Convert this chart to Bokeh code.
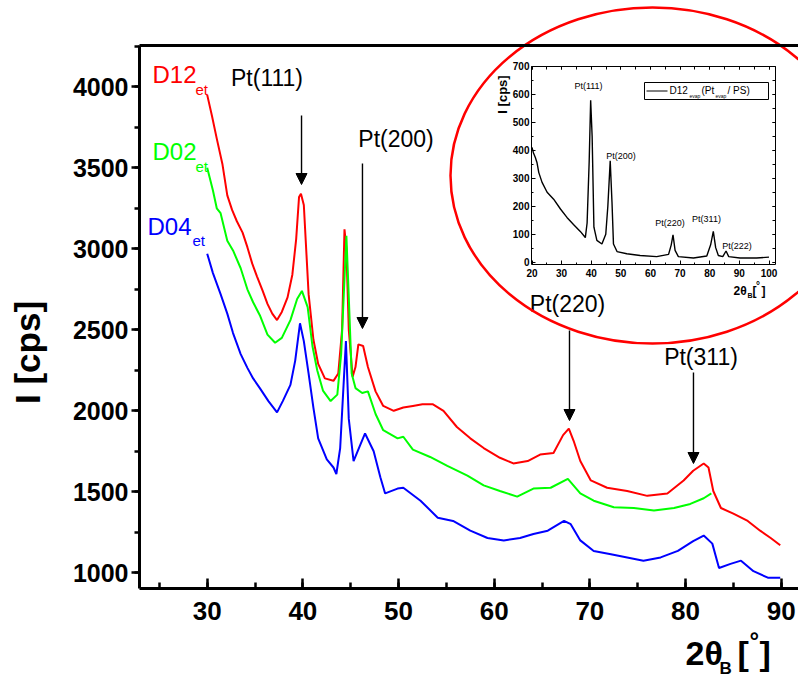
import numpy as np
from bokeh.plotting import figure
from bokeh.models import (Range1d, LinearAxis, SingleIntervalTicker, FixedTicker,
                          Arrow, NormalHead, ColumnDataSource)
from bokeh.core.properties import value
from bokeh.embed import file_html
from bokeh.resources import INLINE

# ---------------- data ----------------
d12_x = [30.0, 30.5, 31.0, 31.6, 32.1, 32.6, 33.1, 33.7, 34.2, 34.7, 35.2, 35.8, 36.3, 36.8,
         37.3, 37.8, 38.4, 38.9, 39.3, 39.6, 39.8, 40.1, 40.3, 40.6, 41.1, 41.6, 42.3, 43.2,
         43.7, 44.1, 44.35, 44.55, 44.8, 45.2, 45.5, 45.8, 46.3, 46.8, 47.6, 48.4, 49.5, 50.5,
         51.5, 52.5, 53.6, 54.7, 56.1, 57.5, 58.9, 60.6, 62.0, 63.5, 64.8, 66.2, 67.2, 67.8,
         68.3, 69.0, 70.1, 71.8, 73.9, 76.0, 78.1, 79.8, 80.8, 81.9, 82.4, 82.9, 83.7, 85.0,
         86.5, 87.8, 88.9, 89.9]
d12_y = [3950, 3820, 3680, 3520, 3330, 3240, 3170, 3100, 3010, 2910, 2830, 2740, 2660, 2600,
         2560, 2610, 2700, 2840, 3060, 3320, 3340, 3270, 3050, 2720, 2440, 2290, 2200, 2185,
         2230, 2500, 3120, 3000, 2500, 2210, 2270, 2410, 2400, 2270, 2120, 2030, 2000, 2020,
         2030, 2040, 2040, 2000, 1900, 1830, 1770, 1710, 1675, 1690, 1730, 1740, 1850, 1890,
         1815, 1690, 1570, 1525, 1505, 1475, 1490, 1570, 1630, 1675, 1650, 1505, 1400, 1365,
         1320, 1260, 1215, 1170]

d02_x = [30.0, 30.6, 31.0, 31.4, 32.1, 32.7, 33.5, 34.2, 34.8, 35.5, 36.3, 37.1, 37.8, 38.7,
         39.4, 39.9, 40.5, 41.0, 41.5, 42.1, 42.9, 43.6, 44.0, 44.55, 44.8, 45.1, 45.5, 46.2,
         46.8, 47.6, 48.4, 49.9, 50.5, 51.5, 53.3, 55.1, 57.2, 58.9, 60.6, 62.4, 64.1, 65.9,
         67.7, 69.0, 70.4, 72.5, 74.6, 76.7, 78.8, 80.5, 81.9, 82.7]
d02_y = [3500, 3360, 3250, 3220, 3050, 2990, 2880, 2750, 2670, 2590, 2470, 2420, 2450, 2560,
         2690, 2740, 2640, 2400, 2250, 2125, 2060, 2100, 2350, 3080, 2700, 2230, 2140, 2110,
         2120, 1980, 1880, 1830, 1840, 1760, 1715, 1660, 1600, 1540, 1505, 1470, 1520, 1525,
         1580, 1490, 1445, 1405, 1400, 1385, 1400, 1425, 1460, 1490]

d04_x = [30.0, 30.6, 31.4, 32.1, 32.7, 33.5, 34.2, 34.8, 35.5, 36.4, 37.3, 37.9, 38.7, 39.2,
         39.7, 40.1, 40.6, 41.1, 41.6, 42.5, 43.2, 43.5, 43.9, 44.2, 44.5, 44.8, 45.3, 46.0,
         46.5, 47.4, 48.1, 48.6, 49.9, 50.5, 52.3, 54.1, 55.7, 57.5, 59.3, 61.0, 62.7, 64.1,
         65.6, 67.3, 68.0, 69.0, 70.4, 72.2, 73.9, 75.6, 77.4, 79.2, 80.8, 81.9, 82.8, 83.5,
         84.7, 85.8, 87.1, 88.6, 89.9]
d04_y = [2970, 2850, 2720, 2600, 2480, 2350, 2265, 2200, 2140, 2060, 1990, 2060, 2160, 2310,
         2540, 2430, 2230, 2020, 1830, 1700, 1650, 1610, 1770, 2100, 2430, 1950, 1690, 1790,
         1860, 1750, 1590, 1490, 1520, 1525, 1445, 1340, 1320, 1260, 1215, 1200, 1215, 1240,
         1260, 1320, 1300, 1200, 1135, 1115, 1095, 1075, 1095, 1135, 1195, 1230, 1180, 1030,
         1055, 1075, 1010, 970, 970]

inset_x = [20.0, 20.5, 21.1, 21.7, 22.3, 23.4, 25.1, 27.3, 29.6, 31.8, 34.0, 36.3, 38.0, 38.6,
           39.3, 39.8, 40.3, 40.9, 41.9, 43.6, 44.9, 45.6, 46.4, 47.0, 47.5, 48.7, 52.0, 56.5,
           62.1, 66.1, 67.0, 67.6, 68.3, 69.4, 74.5, 79.0, 80.3, 81.2, 82.0, 82.9, 84.4, 85.5,
           86.4, 90.2, 95.8, 100.0]
inset_y = [410, 390, 375, 355, 320, 285, 250, 225, 190, 160, 135, 110, 88, 140,
           360, 578, 450, 125, 78, 65, 100, 200, 362, 215, 65, 38, 30, 24,
           20, 28, 62, 98, 42, 20, 15, 22, 62, 110, 52, 24, 20, 40,
           20, 15, 15, 18]

peak_names = ["Pt(111)", "Pt(200)", "Pt(220)", "Pt(311)"]
peak_pos = [39.86, 46.23, 67.87, 80.83]
inset_peak_names = ["Pt(111)", "Pt(200)", "Pt(220)", "Pt(311)", "Pt(222)"]

# ---------------- geometry (pixel calibration of the reference) ----------------
W, H = 798, 677
FONT = "Liberation Sans"
K_BASE = 0.38   # renderer places alphabetic baselines ~0.38 em low; compensate


def mapper(p0, v0, p1, v1):
    s = (v1 - v0) / (p1 - p0)
    return lambda px: v0 + (px - p0) * s


X = mapper(206.7, 30.0, 780.7, 90.0)      # main x: pixel from left -> data
Y = mapper(572.3, 1000.0, 86.3, 4000.0)   # main y: pixel from top -> data
IX = mapper(531.5, 20.0, 768.5, 100.0)    # inset x
IY = mapper(261.7, 0.0, 65.7, 700.0)      # inset y

p = figure(width=W, height=H, output_backend="svg", toolbar_location=None,
           x_range=Range1d(X(0), X(W)), y_range=Range1d(Y(H), Y(0)),
           x_axis_location=None, y_axis_location=None, title_location=None,
           min_border=0, outline_line_color=None,
           background_fill_color="white", border_fill_color="white")
p.xgrid.visible = False
p.ygrid.visible = False
p.extra_x_ranges = {"ix": Range1d(IX(0), IX(W))}
p.extra_y_ranges = {"iy": Range1d(IY(H), IY(0))}


def style_axis(ax, size, bold=True):
    ax.major_label_text_font = FONT
    ax.major_label_text_font_size = size
    ax.major_label_text_font_style = "bold" if bold else "normal"
    ax.major_label_text_color = "black"
    ax.axis_line_color = "black"
    ax.major_tick_line_color = "black"
    ax.minor_tick_line_color = "black"


# ---- main axes ----
XL, XR, YB, YT = X(139), X(W), Y(588), Y(45)

ax_b = LinearAxis(fixed_location=YB, bounds=(XL, XR),
                  ticker=SingleIntervalTicker(interval=10, num_minor_ticks=2))
style_axis(ax_b, "26px")
ax_b.axis_line_width = 3
ax_b.major_tick_line_width = 2.5
ax_b.minor_tick_line_width = 2.5
ax_b.major_tick_in, ax_b.major_tick_out = 10, 0
ax_b.minor_tick_in, ax_b.minor_tick_out = 6, 0
ax_b.major_label_standoff = 13
p.add_layout(ax_b, "below")

ax_l = LinearAxis(fixed_location=XL, bounds=(YB, YT),
                  ticker=SingleIntervalTicker(interval=500, num_minor_ticks=2))
style_axis(ax_l, "25px")
ax_l.axis_line_width = 3
ax_l.major_tick_line_width = 2.5
ax_l.minor_tick_line_width = 2.5
ax_l.major_tick_in, ax_l.major_tick_out = 0, 8
ax_l.minor_tick_in, ax_l.minor_tick_out = 0, 5
ax_l.major_label_standoff = 3
p.add_layout(ax_l, "left")

ax_t = LinearAxis(fixed_location=YT, bounds=(XL, XR), ticker=FixedTicker(ticks=[]))
ax_t.axis_line_width = 3
ax_t.axis_line_color = "black"
ax_t.major_label_text_color = None
p.add_layout(ax_t, "above")

# ---- main curves ----
p.line(d12_x, d12_y, line_color="#ff0000", line_width=2)
p.line(d02_x, d02_y, line_color="#00ff00", line_width=2)
p.line(d04_x, d04_y, line_color="#0000ff", line_width=2)


def txt(px, py, s, size, color="black", bold=False, align="left",
        rotated=False, inset=False):
    """Place text by its reference pixel position (left/centre, baseline)."""
    if rotated:
        px = px - K_BASE * size
    else:
        py = py - K_BASE * size
    fx, fy = (IX, IY) if inset else (X, Y)
    p.text(x=[fx(px)], y=[fy(py)], text=[s], text_font=value(FONT),
           text_font_size=f"{size}px",
           text_font_style="bold" if bold else "normal", text_color=color,
           text_align=align, text_baseline="alphabetic",
           angle=np.pi / 2 if rotated else 0.0,
           x_range_name="ix" if inset else "default",
           y_range_name="iy" if inset else "default")


# series names
txt(152, 83, "D12", 24, "#ff0000")
txt(195, 95, "et", 15, "#ff0000")
txt(152, 160, "D02", 24, "#00ff00")
txt(195, 172, "et", 15, "#00ff00")
txt(147, 235, "D04", 24, "#0000ff")
txt(192, 246, "et", 15, "#0000ff")

# peak labels and arrows
lab_px = [266.5, 395.5, 567, 700.5]
lab_py = [86, 147, 312, 365]
arr_top = [115, 163, 330, 372]
arr_tip = [184, 328, 420, 463]
for name, lx, ly in zip(peak_names, lab_px, lab_py):
    txt(lx, ly, name, 23, align="center")
arrow_src = ColumnDataSource(dict(x0=peak_pos, y0=[Y(v) for v in arr_top],
                                  x1=peak_pos, y1=[Y(v) for v in arr_tip]))
p.add_layout(Arrow(end=NormalHead(size=11, fill_color="black", line_color="black"),
                   x_start="x0", y_start="y0", x_end="x1", y_end="y1",
                   source=arrow_src, line_width=1.4, line_color="black"))

# axis titles
txt(40, 352, "I [cps]", 35, bold=True, align="center", rotated=True)
txt(685, 665, "2θ", 34, bold=True)
txt(719, 674, "B", 17, bold=True)
txt(737, 665, "[", 34, bold=True)
txt(749, 649, "°", 24, bold=True)
txt(759, 665, "]", 34, bold=True)

# ---------------- inset ----------------
IXL, IXR, IYB, IYT = IX(531), IX(774.5), IY(264), 700.0

iax_b = LinearAxis(x_range_name="ix", y_range_name="iy", fixed_location=IYB,
                   bounds=(IXL, IXR), ticker=SingleIntervalTicker(interval=10, num_minor_ticks=2))
style_axis(iax_b, "10px")
iax_b.major_tick_in, iax_b.major_tick_out = 4, 0
iax_b.minor_tick_in, iax_b.minor_tick_out = 2, 0
iax_b.major_label_standoff = 4
p.add_layout(iax_b, "below")

iax_l = LinearAxis(x_range_name="ix", y_range_name="iy", fixed_location=IXL,
                   bounds=(IYB, IYT), ticker=SingleIntervalTicker(interval=100, num_minor_ticks=2))
style_axis(iax_l, "10px")
iax_l.major_tick_in, iax_l.major_tick_out = 4, 0
iax_l.minor_tick_in, iax_l.minor_tick_out = 2, 0
iax_l.major_label_standoff = 2
p.add_layout(iax_l, "left")

iax_t = LinearAxis(x_range_name="ix", y_range_name="iy", fixed_location=IYT,
                   bounds=(IXL, IXR), ticker=SingleIntervalTicker(interval=10, num_minor_ticks=2))
style_axis(iax_t, "10px")
iax_t.major_label_text_color = None
iax_t.major_tick_in, iax_t.major_tick_out = 3, 0
iax_t.minor_tick_in, iax_t.minor_tick_out = 3, 0
p.add_layout(iax_t, "above")

iax_r = LinearAxis(x_range_name="ix", y_range_name="iy", fixed_location=IXR,
                   bounds=(IYB, IYT), ticker=SingleIntervalTicker(interval=100, num_minor_ticks=2))
style_axis(iax_r, "10px")
iax_r.major_label_text_color = None
iax_r.major_tick_in, iax_r.major_tick_out = 3, 0
iax_r.minor_tick_in, iax_r.minor_tick_out = 3, 0
p.add_layout(iax_r, "right")

p.line(inset_x, inset_y, line_color="black", line_width=1.4,
       x_range_name="ix", y_range_name="iy")

ilab_px = [588, 620.5, 669.5, 706, 736.5]
ilab_py = [89, 159, 226, 222, 249]
for name, lx, ly in zip(inset_peak_names, ilab_px, ilab_py):
    txt(lx, ly, name, 9, align="center", inset=True)

# inset legend
p.quad(left=[IX(644)], right=[IX(768)], top=[IY(82)], bottom=[IY(99)],
       fill_color="white", line_color="black", line_width=1,
       x_range_name="ix", y_range_name="iy")
p.segment(x0=[IX(646)], y0=[IY(90.5)], x1=[IX(667)], y1=[IY(90.5)],
          line_color="black", line_width=1, x_range_name="ix", y_range_name="iy")
txt(669, 94, "D12", 10, inset=True)
txt(689, 97, "evap", 5, inset=True)
txt(701, 94, "(Pt", 10, inset=True)
txt(715, 97, "evap", 5, inset=True)
txt(727, 94, "/ PS)", 10, inset=True)

# inset axis titles
txt(507, 94, "I [cps]", 13, bold=True, align="center", rotated=True, inset=True)
txt(733, 295, "2θ", 12, bold=True, inset=True)
txt(747, 298, "B", 7, bold=True, inset=True)
txt(752, 295, "[", 12, bold=True, inset=True)
txt(755.5, 289, "°", 10, bold=True, inset=True)
txt(761, 295, "]", 12, bold=True, inset=True)

# red ellipse around the inset
p.ellipse(x=[X(652)], y=[Y(175)], width=404, height=336,
          width_units="screen", height_units="screen",
          fill_color=None, line_color="#ff0000", line_width=2.5)

open("out.html", "w").write(file_html(p, INLINE))
